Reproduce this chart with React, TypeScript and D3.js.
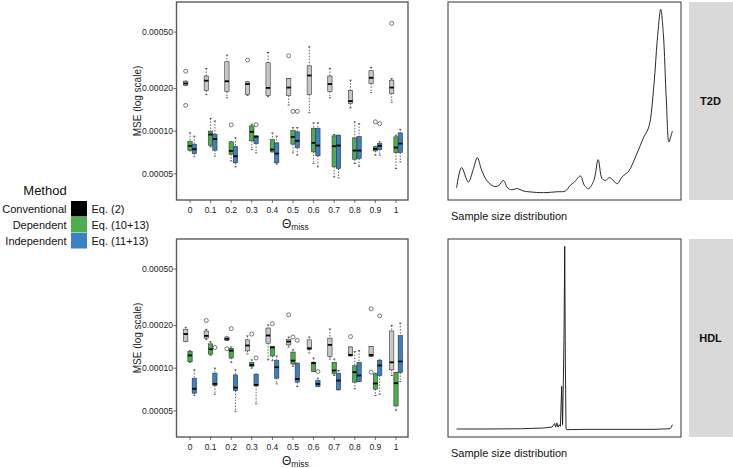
import React from "react";
import * as d3 from "d3";

// ---------- data (MSE in units of 1e-4) ----------
const thetaLabels = ["0", "0.1", "0.2", "0.3", "0.4", "0.5", "0.6", "0.7", "0.8", "0.9", "1"];
const methods = ["Conventional", "Dependent", "Independent"];
const methodEq = ["Eq. (2)", "Eq. (10+13)", "Eq. (11+13)"];
const methodLegendColors = ["#000000", "#4cae4c", "#3b7fc4"];
const methodBoxColors = ["#c8c8c8", "#4cae4c", "#3b7fc4"];
const yTickValues = [0.5, 1, 2, 5];
const panelNames = ["T2D", "HDL"];

// [whiskerLow, q1, median, q3, whiskerHigh]
const t2dConventional = [
  [2.10, 2.11, 2.17, 2.25, 2.26], [1.81, 1.93, 2.27, 2.45, 2.77], [1.72, 1.90, 2.25, 3.09, 3.44],
  [1.79, 1.81, 2.15, 2.23, 2.23], [1.75, 1.79, 2.02, 3.04, 3.59], [1.53, 1.78, 2.03, 2.35, 2.35],
  [1.35, 1.81, 2.47, 2.89, 3.94], [1.72, 1.90, 2.15, 2.45, 2.77], [1.46, 1.57, 1.63, 1.93, 2.29],
  [1.87, 2.17, 2.38, 2.67, 2.82], [1.60, 1.85, 2.03, 2.29, 2.35],
];
const t2dConventionalOut = [[2.65, 1.52], [], [], [3.17], [], [3.40], [], [], [], [], [5.76]];
const t2dDependent = [
  [0.726, 0.734, 0.788, 0.850, 0.973], [0.775, 0.796, 0.947, 1.0, 1.23], [0.617, 0.688, 0.726, 0.841, 0.841],
  [0.742, 0.855, 0.99, 1.09, 1.12], [0.714, 0.714, 0.742, 0.873, 0.973], [0.703, 0.81, 0.912, 1.016, 1.06],
  [0.591, 0.714, 0.827, 1.05, 1.145], [0.476, 0.56, 0.783, 0.927, 0.947], [0.591, 0.634, 0.730, 0.897, 1.164],
  [0.677, 0.726, 0.75, 0.775, 0.783], [0.545, 0.707, 0.767, 0.912, 0.937],
];
const t2dDependentOut = [[], [], [1.11], [], [], [1.38], [], [], [], [1.164], []];
const t2dIndependent = [
  [0.659, 0.695, 0.746, 0.810, 0.922], [0.666, 0.734, 0.88, 0.952, 1.18], [0.56, 0.598, 0.666, 0.783, 0.897],
  [0.703, 0.818, 0.912, 0.927, 0.927], [0.585, 0.598, 0.695, 0.827, 0.922], [0.677, 0.763, 0.855, 0.99, 1.06],
  [0.56, 0.67, 0.792, 1.05, 1.145], [0.468, 0.545, 0.792, 0.937, 0.937], [0.566, 0.641, 0.730, 0.917, 1.13],
  [0.677, 0.742, 0.788, 0.818, 0.841], [0.607, 0.707, 0.818, 0.973, 1.03],
];
const t2dIndependentOut = [[], [], [], [1.11], [], [1.38], [], [], [], [1.13], []];

const hdlConventional = [
  [1.54, 1.54, 1.74, 1.87, 1.94], [1.59, 1.63, 1.69, 1.83, 1.88], [1.57, 1.57, 1.61, 1.66, 1.66],
  [1.26, 1.325, 1.445, 1.585, 1.69], [1.145, 1.50, 1.70, 1.92, 2.02], [1.41, 1.46, 1.54, 1.60, 1.66],
  [1.28, 1.35, 1.38, 1.585, 1.66], [1.16, 1.21, 1.46, 1.63, 1.89], [1.22, 1.22, 1.24, 1.41, 1.41],
  [1.21, 1.21, 1.24, 1.42, 1.42], [0.888, 0.973, 1.10, 1.83, 2.0],
];
const hdlConventionalOut = [[], [2.17], [1.37], [], [], [2.38], [], [], [1.67], [2.62, 0.937], []];
const hdlDependent = [
  [1.10, 1.11, 1.23, 1.31, 1.33], [1.235, 1.255, 1.36, 1.485, 1.54], [1.10, 1.18, 1.33, 1.38, 1.41],
  [1.0, 1.03, 1.055, 1.10, 1.145], [1.13, 1.22, 1.40, 1.42, 1.42], [1.03, 1.07, 1.13, 1.30, 1.35],
  [0.947, 0.947, 1.085, 1.10, 1.18], [0.888, 0.912, 0.963, 1.10, 1.16], [0.715, 0.797, 0.937, 1.04, 1.31],
  [0.641, 0.711, 0.78, 0.912, 0.922], [0.505, 0.542, 0.784, 0.932, 0.932],
];
const hdlDependentOut = [[], [], [1.90], [1.74], [2.06], [1.66], [], [], [], [], []];
const hdlIndependent = [
  [0.641, 0.666, 0.715, 0.85, 0.973], [0.655, 0.755, 0.775, 0.922, 1.0], [0.494, 0.695, 0.73, 0.897, 0.973],
  [0.56, 0.75, 0.763, 0.907, 0.907], [0.775, 0.85, 1.016, 1.13, 1.22], [0.742, 0.797, 0.84, 1.085, 1.085],
  [0.742, 0.742, 0.775, 0.818, 0.85], [0.703, 0.703, 0.818, 0.922, 0.963], [0.805, 0.805, 0.888, 1.10, 1.33],
  [0.655, 0.888, 1.045, 1.13, 1.145], [0.805, 0.932, 1.115, 1.70, 2.08],
];
const hdlIndependentOut = [[], [1.40], [], [1.18], [], [1.57], [0.947], [], [], [2.34], []];

// sample size density (x: relative sample size 0..100, y: relative density)
const t2dDensX = [0, 2.3, 5.4, 7.8, 9.6, 11.6, 14.0, 17.1, 19.4, 21.7, 23.6, 25.6, 27.9, 31.0, 34.1, 40.3, 46.5, 50.4, 52.7, 54.6, 57.4, 59.2, 61.2, 63.6, 65.6, 67.4, 69.0, 71.0, 74.4, 76.7, 79.8, 82.9, 86.8, 89.1, 91.5, 93.0, 94.6, 95.8, 97.2, 98.4, 99.2, 100];
const t2dDensY = [2.7, 13.7, 5.8, 13.1, 19.1, 12.2, 6.7, 3.5, 3.8, 6.7, 2.6, 1.6, 2.2, 0.9, 0.4, 0, 0.5, 0.9, 4.0, 5.8, 9.1, 4.0, 2.2, 6.7, 18.0, 7.7, 6.7, 8.2, 4.9, 8.6, 11.8, 19.5, 30.4, 35.9, 59.6, 83.2, 100, 86.9, 50.5, 27.7, 30.4, 33.5];
const hdlDensX = [0, 14, 29.5, 40.3, 44.2, 45.4, 45.9, 46.5, 47.0, 47.6, 48.1, 48.7, 49.1, 49.5, 49.8, 50.1, 50.4, 50.7, 51.2, 60.5, 91.5, 98.9, 99.5, 100];
const hdlDensY = [0.36, 0.36, 0.5, 0.9, 1.4, 3.3, 1.4, 3.6, 1.4, 2.7, 1.8, 23.6, 2.7, 28.1, 54, 100, 36, 0.4, 0, 0.2, 0.2, 0.5, 1.3, 2.7];

const panels = [
  { stats: [t2dConventional, t2dDependent, t2dIndependent], outs: [t2dConventionalOut, t2dDependentOut, t2dIndependentOut], dx: t2dDensX, dy: t2dDensY },
  { stats: [hdlConventional, hdlDependent, hdlIndependent], outs: [hdlConventionalOut, hdlDependentOut, hdlIndependentOut], dx: hdlDensX, dy: hdlDensY },
];

const FONT = "'Liberation Sans', Arial, Helvetica, sans-serif";

function BoxPanel({ top, stats, outs }: any) {
  const left = 176.5, right = 408, h = 198;
  const bottom = top + h;
  const y = d3.scaleLog().domain([0.327, 8.15]).range([bottom, top]);
  const x = d3.scalePoint<string>().domain(thetaLabels).range([190, 396]);
  const bw = 4.3;
  const offsets = [-bw, 0, bw];
  return (
    <g>
      {stats.map((series: number[][], m: number) =>
        series.map((s, i) => {
          const cx = (x(thetaLabels[i]) as number) + offsets[m];
          const [lo, q1, med, q3, hi] = s;
          return (
            <g key={`${m}-${i}`}>
              <line x1={cx} x2={cx} y1={y(hi)} y2={y(q3)} stroke="#222" strokeWidth={0.7} strokeDasharray="1.5,1.5" />
              <line x1={cx} x2={cx} y1={y(q1)} y2={y(lo)} stroke="#222" strokeWidth={0.7} strokeDasharray="1.5,1.5" />
              <line x1={cx - 1.1} x2={cx + 1.1} y1={y(hi)} y2={y(hi)} stroke="#222" strokeWidth={0.7} />
              <line x1={cx - 1.1} x2={cx + 1.1} y1={y(lo)} y2={y(lo)} stroke="#222" strokeWidth={0.7} />
              <rect x={cx - bw / 2} y={y(q3)} width={bw} height={Math.max(0.5, y(q1) - y(q3))} fill={methodBoxColors[m]} stroke="#333" strokeWidth={0.6} />
              <line x1={cx - bw / 2} x2={cx + bw / 2} y1={y(med)} y2={y(med)} stroke="#000" strokeWidth={1.8} />
              {outs[m][i].map((o: number, k: number) => (
                <circle key={k} cx={cx} cy={y(o)} r={2} fill="none" stroke="#222" strokeWidth={0.6} />
              ))}
            </g>
          );
        })
      )}
      <rect x={left} y={top} width={right - left} height={h} fill="none" stroke="#5a5a5a" strokeWidth={1.4} />
      {yTickValues.map((v) => (
        <g key={v}>
          <line x1={left - 3} x2={left} y1={y(v)} y2={y(v)} stroke="#333" strokeWidth={0.7} />
          <text x={left - 3.5} y={y(v)} dy="0.33em" textAnchor="end" fontSize={8.6} fill="#222" fontFamily={FONT}>
            {(v * 1e-4).toFixed(5)}
          </text>
        </g>
      ))}
      {thetaLabels.map((t) => (
        <g key={t}>
          <line x1={x(t)} x2={x(t)} y1={bottom} y2={bottom + 3} stroke="#333" strokeWidth={0.7} />
          <text x={x(t)} y={bottom + 13} textAnchor="middle" fontSize={8.5} fill="#222" fontFamily={FONT}>{t}</text>
        </g>
      ))}
      <text transform={`translate(141,${top + h / 2}) rotate(-90)`} textAnchor="middle" fontSize={10} fill="#222" fontFamily={FONT}>
        MSE (log scale)
      </text>
      <text x={282} y={bottom + 28} fontSize={12} fill="#222" fontFamily={FONT}>
        Θ<tspan fontSize={8.5} dy={2}>miss</tspan>
      </text>
    </g>
  );
}

function DensPanel({ top, dx, dy, name }: any) {
  const left = 448, right = 681, h = 198;
  const bottom = top + h;
  const xExt = d3.extent(dx) as [number, number];
  const yExt = d3.extent(dy) as [number, number];
  const xPad = (xExt[1] - xExt[0]) * 0.04, yPad = (yExt[1] - yExt[0]) * 0.04;
  const x = d3.scaleLinear().domain([xExt[0] - xPad, xExt[1] + xPad]).range([left, right]);
  const y = d3.scaleLinear().domain([yExt[0] - yPad, yExt[1] + yPad]).range([bottom, top]);
  const pts = dx.map((v: number, i: number) => [v, dy[i]] as [number, number]);
  const line = d3.line<[number, number]>().x((d) => x(d[0])).y((d) => y(d[1]))
    .curve(name === "T2D" ? d3.curveCatmullRom.alpha(0.5) : d3.curveLinear);
  return (
    <g>
      <path d={line(pts) || ""} fill="none" stroke="#111" strokeWidth={0.9} />
      <rect x={left} y={top} width={right - left} height={h} fill="none" stroke="#333" strokeWidth={1} />
      <text x={451} y={bottom + 20} fontSize={11} fill="#111" fontFamily={FONT}>Sample size distribution</text>
      <rect x={689} y={top} width={46} height={h} fill="#d9d9d9" />
      <text x={710.5} y={top + h / 2} dy="0.35em" textAnchor="middle" fontSize={11} fontWeight="bold" fill="#111" fontFamily={FONT}>{name}</text>
    </g>
  );
}

export default function App() {
  const tops = [2, 239];
  return (
    <svg width={733} height={468} style={{ position: "absolute", left: 0, top: 0, background: "#fff" }}>
      {panels.map((p, i) => (
        <g key={i}>
          <BoxPanel top={tops[i]} stats={p.stats} outs={p.outs} />
          <DensPanel top={tops[i]} dx={p.dx} dy={p.dy} name={panelNames[i]} />
        </g>
      ))}
      <g fontFamily={FONT}>
        <text x={45} y={195} textAnchor="middle" fontSize={13} fill="#111">Method</text>
        {methods.map((m, i) => (
          <g key={m}>
            <text x={66.5} y={209 + i * 16} dy="0.35em" textAnchor="end" fontSize={11} fill="#111">{m}</text>
            <rect x={71} y={201 + i * 16} width={16} height={15.5} fill={methodLegendColors[i]} />
            <text x={91.5} y={209 + i * 16} dy="0.35em" fontSize={11} fill="#111">{methodEq[i]}</text>
          </g>
        ))}
      </g>
    </svg>
  );
}
